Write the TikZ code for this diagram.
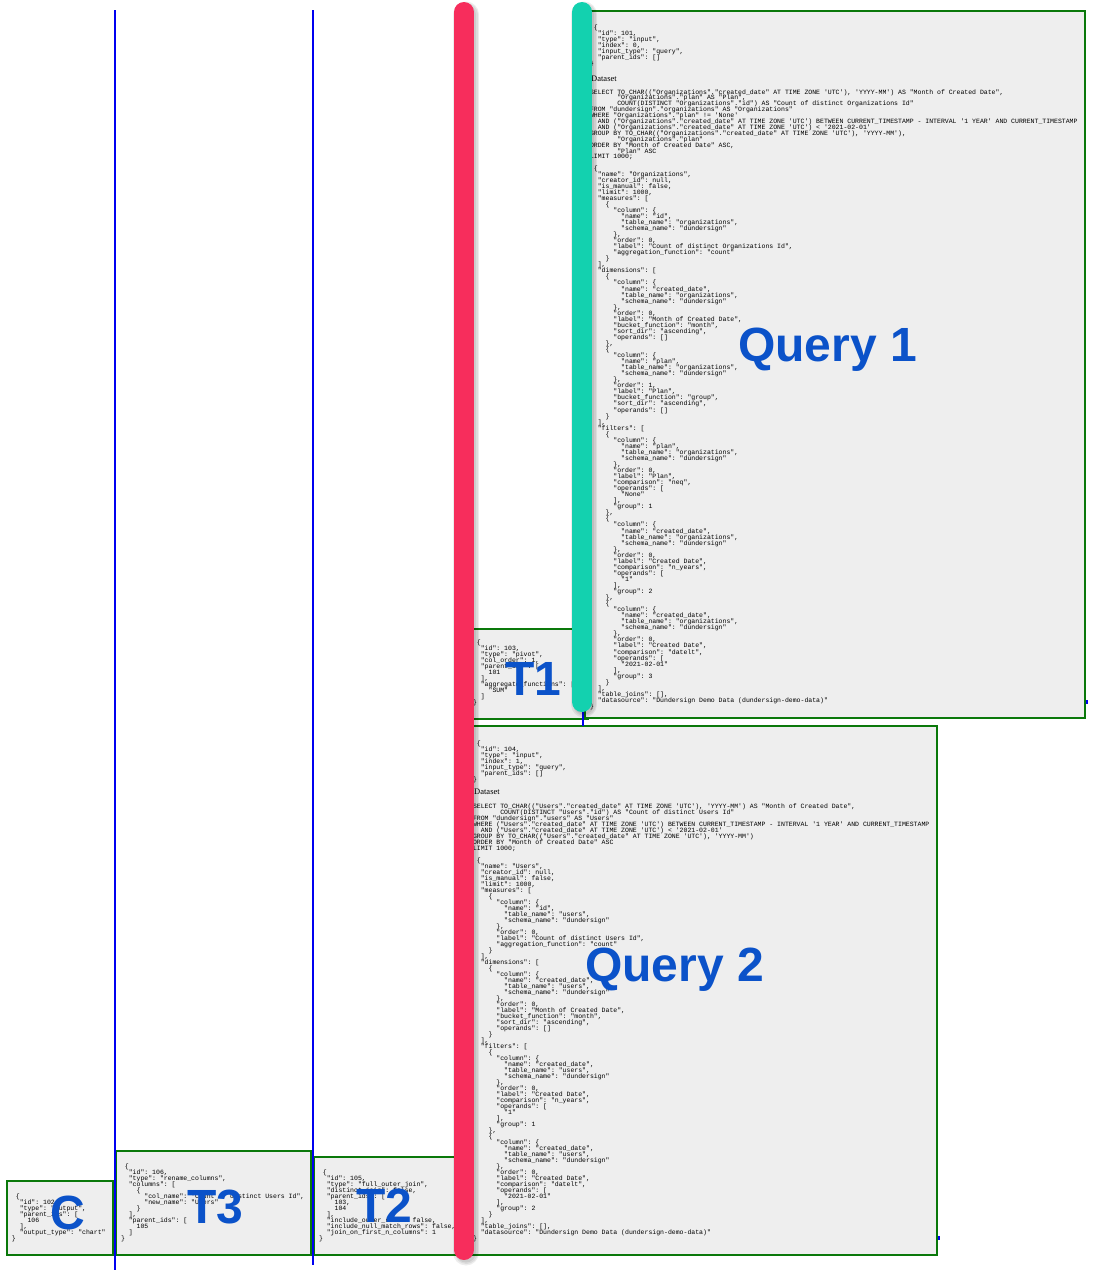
\documentclass[tikz,border=0pt]{standalone}
\usepackage{fontspec}
\setmainfont{Liberation Serif}
\setsansfont{Liberation Sans}
\setmonofont{Liberation Mono}
\usetikzlibrary{calc}
\definecolor{boxfill}{HTML}{EEEEEE}
\definecolor{boxline}{HTML}{0A780A}
\definecolor{lblue}{HTML}{0B52C9}
\definecolor{barred}{HTML}{F72D5C}
\definecolor{barteal}{HTML}{13D1AF}
\definecolor{linkblue}{HTML}{0000F0}
\newlength\cw
\setlength\cw{3.9pt}
\newcommand\ii[1]{\hspace*{#1\cw}}
\newcommand\fl{\rule{0pt}{6pt}}
\newcommand\codefont{\fontsize{6.5}{6}\selectfont\ttfamily}
\newcommand\codeblock[2][6pt]{\vbox{\codefont\hsize=600pt\parindent=0pt\parskip=0pt\baselineskip=#1\lineskiplimit=-50pt\lineskip=0pt\rightskip=0pt plus 1fil\let\\\par #2\par}}
\tikzset{
  pane/.style={draw=boxline, line width=2pt, fill=boxfill, inner sep=0pt, outer sep=0pt, anchor=north west},
  code/.style={anchor=north west, inner sep=0pt, outer sep=0pt, text=black},
  dslabel/.style={anchor=base west, inner sep=0pt, font=\fontsize{8.5}{8.5}\selectfont\rmfamily},
  biglabel/.style={anchor=base west, inner sep=0pt, font=\fontsize{48}{48}\selectfont\sffamily\bfseries, text=lblue},
  link/.style={draw=linkblue, line width=2pt},
  barshade/.style={line width=#1, line cap=round, draw=black, opacity=0.07},
  bar/.style={line width=20pt, line cap=round}
}
\begin{document}
\begin{tikzpicture}[x=1pt, y=-1pt]
\useasboundingbox (0,0) rectangle (1096,1270);
% boxes
\node[pane, minimum width=120pt, minimum height=90pt] (t1) at (468,629) {};
\node[pane, minimum width=500pt, minimum height=707pt] (q1) at (585,11) {};
\node[pane, minimum width=469pt, minimum height=529pt] (q2) at (468,726) {};
\node[pane, minimum width=106pt, minimum height=74pt] (c) at (7,1181) {};
\node[pane, minimum width=195pt, minimum height=104pt] (t3) at (116,1151) {};
\node[pane, minimum width=156pt, minimum height=98pt] (t2) at (314,1157) {};
% Query 1 text
\node[code] (q1json) at (590,23) {\codeblock{\fl\ii1\{\\
\ii2"id": 101,\\
\ii2"type": "input",\\
\ii2"index": 0,\\
\ii2"input\_type": "query",\\
\ii2"parent\_ids": []\\
\}}};
\node[dslabel] (q1ds) at (591,81) {Dataset};
\node[code] (q1sql) at (590,88) {\codeblock[5.9pt]{\fl SELECT TO\_CHAR(("Organizations"."created\_date" AT TIME ZONE 'UTC'), 'YYYY-MM') AS "Month of Created Date",\\
\ii7"Organizations"."plan" AS "Plan",\\
\ii7COUNT(DISTINCT "Organizations"."id") AS "Count of distinct Organizations Id"\\
FROM "dundersign"."organizations" AS "Organizations"\\
WHERE "Organizations"."plan" != 'None'\\
\ii2AND ("Organizations"."created\_date" AT TIME ZONE 'UTC') BETWEEN CURRENT\_TIMESTAMP - INTERVAL '1 YEAR' AND CURRENT\_TIMESTAMP\\
\ii2AND ("Organizations"."created\_date" AT TIME ZONE 'UTC') < '2021-02-01'\\
GROUP BY TO\_CHAR(("Organizations"."created\_date" AT TIME ZONE 'UTC'), 'YYYY-MM'),\\
\ii7"Organizations"."plan"\\
ORDER BY "Month of Created Date" ASC,\\
\ii7"Plan" ASC\\
LIMIT 1000;}};
\node[code] (q1data) at (590,164) {\codeblock[6.05pt]{\fl\ii1\{\\
\ii2"name": "Organizations",\\
\ii2"creator\_id": null,\\
\ii2"is\_manual": false,\\
\ii2"limit": 1000,\\
\ii2"measures": [\\
\ii4\{\\
\ii6"column": \{\\
\ii8"name": "id",\\
\ii8"table\_name": "organizations",\\
\ii8"schema\_name": "dundersign"\\
\ii6\},\\
\ii6"order": 0,\\
\ii6"label": "Count of distinct Organizations Id",\\
\ii6"aggregation\_function": "count"\\
\ii4\}\\
\ii2],\\
\ii2"dimensions": [\\
\ii4\{\\
\ii6"column": \{\\
\ii8"name": "created\_date",\\
\ii8"table\_name": "organizations",\\
\ii8"schema\_name": "dundersign"\\
\ii6\},\\
\ii6"order": 0,\\
\ii6"label": "Month of Created Date",\\
\ii6"bucket\_function": "month",\\
\ii6"sort\_dir": "ascending",\\
\ii6"operands": []\\
\ii4\},\\
\ii4\{\\
\ii6"column": \{\\
\ii8"name": "plan",\\
\ii8"table\_name": "organizations",\\
\ii8"schema\_name": "dundersign"\\
\ii6\},\\
\ii6"order": 1,\\
\ii6"label": "Plan",\\
\ii6"bucket\_function": "group",\\
\ii6"sort\_dir": "ascending",\\
\ii6"operands": []\\
\ii4\}\\
\ii2],\\
\ii2"filters": [\\
\ii4\{\\
\ii6"column": \{\\
\ii8"name": "plan",\\
\ii8"table\_name": "organizations",\\
\ii8"schema\_name": "dundersign"\\
\ii6\},\\
\ii6"order": 0,\\
\ii6"label": "Plan",\\
\ii6"comparison": "neq",\\
\ii6"operands": [\\
\ii8"None"\\
\ii6],\\
\ii6"group": 1\\
\ii4\},\\
\ii4\{\\
\ii6"column": \{\\
\ii8"name": "created\_date",\\
\ii8"table\_name": "organizations",\\
\ii8"schema\_name": "dundersign"\\
\ii6\},\\
\ii6"order": 0,\\
\ii6"label": "Created Date",\\
\ii6"comparison": "n\_years",\\
\ii6"operands": [\\
\ii8"1"\\
\ii6],\\
\ii6"group": 2\\
\ii4\},\\
\ii4\{\\
\ii6"column": \{\\
\ii8"name": "created\_date",\\
\ii8"table\_name": "organizations",\\
\ii8"schema\_name": "dundersign"\\
\ii6\},\\
\ii6"order": 0,\\
\ii6"label": "Created Date",\\
\ii6"comparison": "datelt",\\
\ii6"operands": [\\
\ii8"2021-02-01"\\
\ii6],\\
\ii6"group": 3\\
\ii4\}\\
\ii2],\\
\ii2"table\_joins": [],\\
\ii2"datasource": "Dundersign Demo Data (dundersign-demo-data)"\\
\}}};
% T1 text
\node[code] (t1json) at (473,638) {\codeblock{\fl\ii1\{\\
\ii2"id": 103,\\
\ii2"type": "pivot",\\
\ii2"col\_order": 1,\\
\ii2"parent\_ids": [\\
\ii{4}101\\
\ii2],\\
\ii2"aggregate\_functions": [\\
\ii4"SUM"\\
\ii2]\\
\}}};
% Query 2 text
\node[code] (q2json) at (473,739) {\codeblock{\fl\ii1\{\\
\ii2"id": 104,\\
\ii2"type": "input",\\
\ii2"index": 1,\\
\ii2"input\_type": "query",\\
\ii2"parent\_ids": []\\
\}}};
\node[dslabel] (q2ds) at (474,794.5) {Dataset};
\node[code] (q2sql) at (473,802) {\codeblock{\fl SELECT TO\_CHAR(("Users"."created\_date" AT TIME ZONE 'UTC'), 'YYYY-MM') AS "Month of Created Date",\\
\ii7COUNT(DISTINCT "Users"."id") AS "Count of distinct Users Id"\\
FROM "dundersign"."users" AS "Users"\\
WHERE ("Users"."created\_date" AT TIME ZONE 'UTC') BETWEEN CURRENT\_TIMESTAMP - INTERVAL '1 YEAR' AND CURRENT\_TIMESTAMP\\
\ii2AND ("Users"."created\_date" AT TIME ZONE 'UTC') < '2021-02-01'\\
GROUP BY TO\_CHAR(("Users"."created\_date" AT TIME ZONE 'UTC'), 'YYYY-MM')\\
ORDER BY "Month of Created Date" ASC\\
LIMIT 1000;}};
\node[code] (q2data) at (473,856) {\codeblock{\fl\ii1\{\\
\ii2"name": "Users",\\
\ii2"creator\_id": null,\\
\ii2"is\_manual": false,\\
\ii2"limit": 1000,\\
\ii2"measures": [\\
\ii4\{\\
\ii6"column": \{\\
\ii8"name": "id",\\
\ii8"table\_name": "users",\\
\ii8"schema\_name": "dundersign"\\
\ii6\},\\
\ii6"order": 0,\\
\ii6"label": "Count of distinct Users Id",\\
\ii6"aggregation\_function": "count"\\
\ii4\}\\
\ii2],\\
\ii2"dimensions": [\\
\ii4\{\\
\ii6"column": \{\\
\ii8"name": "created\_date",\\
\ii8"table\_name": "users",\\
\ii8"schema\_name": "dundersign"\\
\ii6\},\\
\ii6"order": 0,\\
\ii6"label": "Month of Created Date",\\
\ii6"bucket\_function": "month",\\
\ii6"sort\_dir": "ascending",\\
\ii6"operands": []\\
\ii4\}\\
\ii2],\\
\ii2"filters": [\\
\ii4\{\\
\ii6"column": \{\\
\ii8"name": "created\_date",\\
\ii8"table\_name": "users",\\
\ii8"schema\_name": "dundersign"\\
\ii6\},\\
\ii6"order": 0,\\
\ii6"label": "Created Date",\\
\ii6"comparison": "n\_years",\\
\ii6"operands": [\\
\ii8"1"\\
\ii6],\\
\ii6"group": 1\\
\ii4\},\\
\ii4\{\\
\ii6"column": \{\\
\ii8"name": "created\_date",\\
\ii8"table\_name": "users",\\
\ii8"schema\_name": "dundersign"\\
\ii6\},\\
\ii6"order": 0,\\
\ii6"label": "Created Date",\\
\ii6"comparison": "datelt",\\
\ii6"operands": [\\
\ii8"2021-02-01"\\
\ii6],\\
\ii6"group": 2\\
\ii4\}\\
\ii2],\\
\ii2"table\_joins": [],\\
\ii2"datasource": "Dundersign Demo Data (dundersign-demo-data)"\\
\}}};
% C text
\node[code] (cjson) at (12,1192) {\codeblock{\fl\ii1\{\\
\ii2"id": 102,\\
\ii2"type": "output",\\
\ii2"parent\_ids": [\\
\ii{4}106\\
\ii2],\\
\ii2"output\_type": "chart"\\
\}}};
% T3 text
\node[code] (t3json) at (121,1162) {\codeblock{\fl\ii1\{\\
\ii2"id": 106,\\
\ii2"type": "rename\_columns",\\
\ii2"columns": [\\
\ii4\{\\
\ii6"col\_name": "Count of distinct Users Id",\\
\ii6"new\_name": "Users"\\
\ii4\}\\
\ii2],\\
\ii2"parent\_ids": [\\
\ii{4}105\\
\ii2]\\
\}}};
% T2 text
\node[code] (t2json) at (319,1168) {\codeblock{\fl\ii1\{\\
\ii2"id": 105,\\
\ii2"type": "full\_outer\_join",\\
\ii2"distinct\_join": false,\\
\ii2"parent\_ids": [\\
\ii{4}103,\\
\ii{4}104\\
\ii2],\\
\ii2"include\_outer\_rows": false,\\
\ii2"include\_null\_match\_rows": false,\\
\ii2"join\_on\_first\_n\_columns": 1\\
\}}};
% blue connector lines
\coordinate (l1top) at (115,10);
\coordinate (l1bot) at (115,1270);
\coordinate (l2top) at (313,10);
\coordinate (l2bot) at (313,1265);
\draw[link] (l1top) -- (l1bot);
\draw[link] (l2top) -- (l2bot);
\coordinate (tealend) at (583,712);
\draw[link] (tealend) -- (tealend |- q2.north);
\coordinate (q1stub) at (q1.east |- 0,702);
\coordinate (q2stub) at (q2.east |- 0,1238);
\fill[linkblue] ($(q1stub)+(0.5,-2)$) rectangle ++(2.5,4);
\fill[linkblue] ($(q2stub)+(0.5,-2)$) rectangle ++(2.5,4);
% big labels
\node[biglabel] (lq1) at (738,361) {Query 1};
\node[biglabel] (lq2) at (585,981) {Query 2};
\node[biglabel] (lt1) at (505,695) {T1};
\node[biglabel] (lc) at (50,1229) {C};
\node[biglabel] (lt3) at (187,1223) {T3};
\node[biglabel] (lt2) at (356,1222) {T2};
% bars with soft shadow
\foreach \w in {26,23,20}{
  \draw[barshade=\w pt] (466,14.5) -- (466,1252.5);
  \draw[barshade=\w pt] (584,14.5) -- (584,704.5);
}
\draw[bar, draw=barred] (464,12) -- (464,1250);
\draw[bar, draw=barteal] (582,12) -- (582,702);
\end{tikzpicture}
\end{document}
